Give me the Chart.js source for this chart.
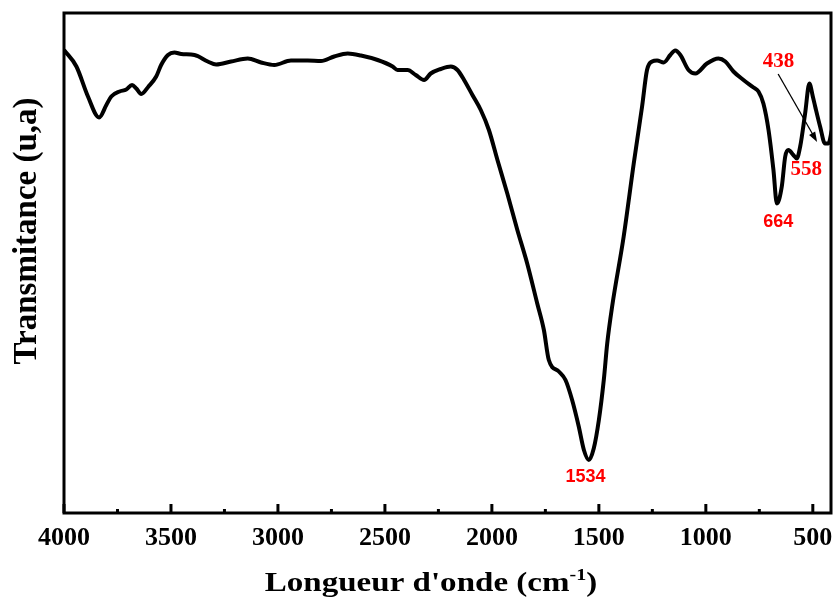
<!DOCTYPE html>
<html>
<head>
<meta charset="utf-8">
<script src="https://cdn.jsdelivr.net/npm/chart.js@4.4.1/dist/chart.umd.min.js"></script>
<style>
  body { margin: 0; background: #fff; }
  #wrap { width: 835px; height: 599px; }
</style>
</head>
<body>
<div id="wrap"><canvas id="ftir" width="835" height="599"></canvas></div>
<script>
// wavenumber (cm-1) and transmittance
const wavenumbers = [
    4000, 3942, 3888, 3836, 3802, 3779, 3740, 3709, 3682, 3662,
    3639, 3605, 3569, 3546, 3514, 3484, 3452, 3390, 3328, 3289,
    3219, 3141, 3079, 3017, 2939, 2861, 2799, 2737, 2674, 2612,
    2534, 2464, 2441, 2394, 2356, 2317, 2286, 2239, 2192, 2161,
    2130, 2091, 2052, 2014, 1974, 1928, 1881, 1835, 1788, 1757,
    1734, 1687, 1656, 1625, 1594, 1570, 1547, 1524, 1500, 1477,
    1461, 1438, 1384, 1337, 1298, 1275, 1251, 1228, 1197, 1166,
    1143, 1119, 1081, 1049, 995, 941, 909, 871, 824, 777,
    754, 731, 707, 684, 668, 645, 629, 614, 591, 575,
    559, 536, 516, 500, 489, 466, 443, 427, 411
];
const transmittance = [
    92.6, 89.3, 83.3, 79.1, 81.6, 83.3, 84.3, 84.7, 85.6, 84.9,
    83.8, 85.3, 87.3, 89.6, 91.6, 92.1, 91.8, 91.6, 90.3, 89.7,
    90.3, 90.9, 90.1, 89.6, 90.5, 90.5, 90.4, 91.3, 91.9, 91.5,
    90.6, 89.3, 88.6, 88.6, 87.6, 86.6, 87.9, 88.8, 89.3, 88.6,
    86.6, 83.6, 80.6, 76.6, 70.6, 63.9, 56.6, 49.9, 41.9, 36.6,
    30.6, 28.3, 26.6, 22.6, 17.3, 12.6, 10.6, 12.9, 18.6, 26.6,
    33.9, 41.3, 55.3, 69.9, 81.3, 88.6, 90.3, 90.5, 90.1, 91.6,
    92.5, 91.6, 88.6, 87.9, 89.9, 90.9, 90.3, 88.3, 86.6, 85.1,
    84.3, 81.9, 76.6, 68.6, 61.9, 65.3, 71.3, 72.6, 71.6, 70.9,
    73.3, 79.9, 85.9, 83.3, 81.3, 77.3, 73.9, 73.9, 76.6
];

// peak labels: text, x (cm-1), y (transmittance)
const peakLabels = ['1534', '664', '558', '438'];
const peakLabelX = [1562, 662, 531, 660];
const peakLabelY = [7.1, 58.2, 68.6, 90.2];
const peakLabelFont = ['bold 18px "Liberation Sans", Arial, sans-serif',
                       'bold 18px "Liberation Sans", Arial, sans-serif',
                       'bold 21px "Liberation Serif", "Times New Roman", serif',
                       'bold 21px "Liberation Serif", "Times New Roman", serif'];
// arrow from the 438 label to its band
const arrowFrom = [662, 87.8];
const arrowTo = [480, 74.2];

const xMin = 415;
const xMax = 4000;
const serif = '"Liberation Serif", "Times New Roman", serif';

const decorPlugin = {
    id: 'decor',
    afterDatasetsDraw(chart) {
        const { ctx, chartArea: a, scales: { x, y } } = chart;
        ctx.save();

        // frame
        ctx.strokeStyle = '#000';
        ctx.lineWidth = 3;
        ctx.strokeRect(a.left, a.top, a.right - a.left, a.bottom - a.top);

        // inward ticks on the bottom axis
        x.ticks.forEach(t => {
            const px = x.getPixelForValue(t.value);
            const len = t.value % 500 === 0 ? 9 : 4;
            ctx.beginPath();
            ctx.moveTo(px, a.bottom);
            ctx.lineTo(px, a.bottom - len);
            ctx.stroke();
        });

        // peak labels
        ctx.fillStyle = '#ff0000';
        ctx.textAlign = 'center';
        ctx.textBaseline = 'middle';
        peakLabels.forEach((txt, i) => {
            ctx.font = peakLabelFont[i];
            ctx.fillText(txt, x.getPixelForValue(peakLabelX[i]), y.getPixelForValue(peakLabelY[i]));
        });

        // arrow
        const x0 = x.getPixelForValue(arrowFrom[0]), y0 = y.getPixelForValue(arrowFrom[1]);
        const x1 = x.getPixelForValue(arrowTo[0]), y1 = y.getPixelForValue(arrowTo[1]);
        const ang = Math.atan2(y1 - y0, x1 - x0);
        ctx.strokeStyle = '#000';
        ctx.fillStyle = '#000';
        ctx.lineWidth = 1.3;
        ctx.beginPath();
        ctx.moveTo(x0, y0);
        ctx.lineTo(x1 - 6 * Math.cos(ang), y1 - 6 * Math.sin(ang));
        ctx.stroke();
        ctx.beginPath();
        ctx.moveTo(x1, y1);
        ctx.lineTo(x1 - 10 * Math.cos(ang) + 3.5 * Math.sin(ang), y1 - 10 * Math.sin(ang) - 3.5 * Math.cos(ang));
        ctx.lineTo(x1 - 10 * Math.cos(ang) - 3.5 * Math.sin(ang), y1 - 10 * Math.sin(ang) + 3.5 * Math.cos(ang));
        ctx.closePath();
        ctx.fill();

        // y title
        ctx.fillStyle = '#000';
        ctx.font = 'bold 33px ' + serif;
        ctx.save();
        ctx.translate(27, 231);
        ctx.rotate(-Math.PI / 2);
        ctx.fillText('Transmitance (u,a)', 0, 0);
        ctx.restore();

        // x title with superscript, slightly widened like the original
        const main = "Longueur d'onde (cm";
        const sup = '-1';
        const end = ')';
        const stretch = 1.18;
        ctx.textAlign = 'left';
        ctx.textBaseline = 'alphabetic';
        ctx.font = 'bold 28px ' + serif;
        const wMain = ctx.measureText(main).width;
        const wEnd = ctx.measureText(end).width;
        ctx.font = 'bold 17px ' + serif;
        const wSup = ctx.measureText(sup).width;
        const total = (wMain + wSup + wEnd) * stretch;
        ctx.save();
        ctx.translate(431 - total / 2, 591);
        ctx.scale(stretch, 1);
        let tx = 0;
        ctx.font = 'bold 28px ' + serif;
        ctx.fillText(main, tx, 0);
        tx += wMain;
        ctx.font = 'bold 17px ' + serif;
        ctx.fillText(sup, tx, -11);
        tx += wSup;
        ctx.font = 'bold 28px ' + serif;
        ctx.fillText(end, tx, 0);
        ctx.restore();

        ctx.restore();
    }
};

window.onload = function () {
    const ctx = document.getElementById('ftir').getContext('2d');
    new Chart(ctx, {
        type: 'line',
        data: {
            datasets: [{
                data: wavenumbers.map((w, i) => ({ x: w, y: transmittance[i] })),
                borderColor: '#000',
                borderWidth: 4,
                pointRadius: 0,
                fill: false,
                cubicInterpolationMode: 'monotone'
            }]
        },
        options: {
            responsive: false,
            animation: false,
            layout: { padding: { left: 64, right: 4, top: 13, bottom: 0 } },
            plugins: {
                legend: { display: false },
                tooltip: { enabled: false }
            },
            scales: {
                x: {
                    type: 'linear',
                    reverse: true,
                    min: xMin,
                    max: xMax,
                    afterFit: s => {
                        s.height = 86;
                        s.paddingLeft = 0;
                        s.paddingRight = 0;
                    },
                    grid: { display: false, drawTicks: false },
                    border: { display: false },
                    ticks: {
                        stepSize: 250,
                        includeBounds: false,
                        autoSkip: false,
                        maxRotation: 0,
                        padding: 10,
                        color: '#000',
                        font: { family: serif, size: 26, weight: 'bold' },
                        callback: v => (v % 500 === 0 ? String(v) : '')
                    }
                },
                y: {
                    display: false,
                    min: 0,
                    max: 100
                }
            }
        },
        plugins: [decorPlugin]
    });
};
</script>
</body>
</html>
